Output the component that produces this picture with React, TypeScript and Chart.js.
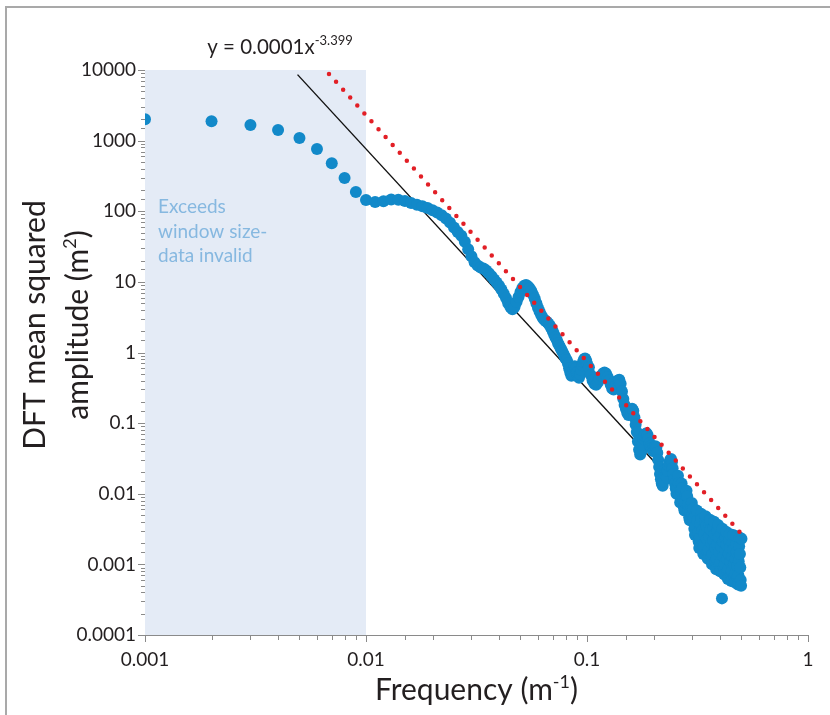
import React, { useEffect, useRef } from 'react';
import { Chart, registerables } from 'chart.js';

Chart.register(...registerables);

// ---------- data ----------
const freqA = [
  0.001, 0.002, 0.003, 0.004, 0.005, 0.006, 0.007, 0.008, 0.009, 0.010,
  0.011, 0.012, 0.013, 0.014, 0.015, 0.016, 0.017, 0.018, 0.019, 0.020,
  0.021, 0.022, 0.023, 0.024, 0.025, 0.026, 0.027, 0.028, 0.029, 0.030,
  0.031, 0.032, 0.033, 0.034, 0.035, 0.036, 0.037, 0.038, 0.039, 0.040,
  0.041, 0.042, 0.043, 0.044, 0.045, 0.046, 0.047, 0.048, 0.049, 0.050,
  0.051, 0.052, 0.053, 0.054, 0.055, 0.056, 0.057, 0.058, 0.059, 0.060,
  0.061, 0.062, 0.063, 0.064, 0.065, 0.066, 0.067, 0.068, 0.069, 0.070,
  0.071, 0.072, 0.073, 0.074, 0.075, 0.076, 0.077, 0.078, 0.079, 0.080,
  0.081, 0.082, 0.083, 0.084, 0.085, 0.086, 0.087, 0.088, 0.089, 0.090,
  0.091, 0.092, 0.093, 0.094, 0.095, 0.096, 0.097, 0.098, 0.099, 0.100,
];
const ampA = [
  2000, 1880, 1660, 1410, 1090, 760, 480, 295, 187, 144,
  135, 139, 147, 146, 140, 131, 124, 118, 111, 103,
  96, 88, 79, 69, 59, 51, 45, 37, 29, 23,
  19, 17, 16, 15.5, 14.5, 13.2, 12, 10.8, 9.8, 8.8,
  7.8, 6.8, 5.9, 5.0, 4.4, 4.1, 4.4, 5.2, 6.1, 7.2,
  8.2, 8.8, 9.0, 8.7, 8.1, 7.4, 6.6, 5.8, 5.0, 4.3,
  3.8, 3.4, 3.1, 2.9, 2.8, 2.7, 2.55, 2.4, 2.2, 2.0,
  1.8, 1.65, 1.5, 1.35, 1.25, 1.15, 1.06, 0.98, 0.9, 0.82,
  0.78, 0.70, 0.60, 0.52, 0.47, 0.50, 0.58, 0.64, 0.60, 0.52,
  0.46, 0.44, 0.49, 0.57, 0.66, 0.74, 0.80, 0.82, 0.78, 0.70,
];
const freqB = [
  0.102, 0.104, 0.106, 0.108, 0.110, 0.112, 0.114, 0.116, 0.118, 0.120,
  0.122, 0.124, 0.126, 0.128, 0.130, 0.132, 0.134, 0.136, 0.138, 0.140,
  0.142, 0.144, 0.146, 0.148, 0.150, 0.152, 0.154, 0.156, 0.158, 0.160,
  0.162, 0.164, 0.166, 0.168, 0.170, 0.172, 0.174, 0.176, 0.178, 0.180,
  0.182, 0.184, 0.186, 0.188, 0.190, 0.192, 0.194, 0.196, 0.198, 0.200,
  0.202, 0.204, 0.206, 0.208, 0.210, 0.212, 0.214, 0.216, 0.218, 0.220,
  0.222, 0.224, 0.226, 0.228, 0.230, 0.232, 0.234, 0.236, 0.238, 0.240,
  0.242, 0.244, 0.246, 0.248, 0.250, 0.252, 0.254, 0.256, 0.258, 0.260,
  0.262, 0.264, 0.266, 0.268, 0.270, 0.272, 0.274, 0.276, 0.278, 0.280,
  0.282, 0.284, 0.286, 0.288, 0.290, 0.292, 0.294, 0.296, 0.298, 0.300,
];
const ampB = [
  0.62, 0.48, 0.40, 0.36, 0.35, 0.38, 0.42, 0.47, 0.50, 0.52,
  0.50, 0.45, 0.40, 0.35, 0.31, 0.30, 0.32, 0.36, 0.40, 0.41,
  0.36, 0.28, 0.22, 0.18, 0.16, 0.14, 0.13, 0.14, 0.15, 0.16,
  0.15, 0.12, 0.095, 0.075, 0.055, 0.042, 0.036, 0.040, 0.050, 0.060,
  0.066, 0.070, 0.072, 0.068, 0.060, 0.052, 0.047, 0.044, 0.042, 0.040,
  0.044, 0.047, 0.045, 0.038, 0.030, 0.024, 0.019, 0.016, 0.014, 0.013,
  0.015, 0.019, 0.022, 0.020, 0.017, 0.021, 0.025, 0.028, 0.030, 0.031,
  0.028, 0.023, 0.019, 0.016, 0.014, 0.012, 0.010, 0.012, 0.018, 0.014,
  0.0095, 0.0075, 0.011, 0.014, 0.012, 0.0085, 0.0065, 0.0058, 0.0075, 0.0095,
  0.011, 0.0092, 0.0070, 0.0058, 0.0046, 0.0042, 0.0055, 0.0068, 0.0074, 0.0050,
];
const freqC = [
  0.302, 0.304, 0.306, 0.308, 0.310, 0.312, 0.314, 0.316, 0.318, 0.320,
  0.322, 0.324, 0.326, 0.328, 0.330, 0.332, 0.334, 0.336, 0.338, 0.340,
  0.342, 0.344, 0.346, 0.348, 0.350, 0.352, 0.354, 0.356, 0.358, 0.360,
  0.362, 0.364, 0.366, 0.368, 0.370, 0.372, 0.374, 0.376, 0.378, 0.380,
  0.382, 0.384, 0.386, 0.388, 0.390, 0.392, 0.394, 0.396, 0.398, 0.400,
  0.402, 0.404, 0.406, 0.408, 0.410, 0.412, 0.414, 0.416, 0.418, 0.420,
  0.422, 0.424, 0.426, 0.428, 0.430, 0.432, 0.434, 0.436, 0.438, 0.440,
  0.442, 0.444, 0.446, 0.448, 0.450, 0.452, 0.454, 0.456, 0.458, 0.460,
  0.462, 0.464, 0.466, 0.468, 0.470, 0.472, 0.474, 0.476, 0.478, 0.480,
  0.482, 0.484, 0.486, 0.488, 0.490, 0.492, 0.494, 0.496, 0.498, 0.500,
];
const ampC = [
  0.0062, 0.0045, 0.0032, 0.0026, 0.0035, 0.0050, 0.0058, 0.0041, 0.0028, 0.0021,
  0.0017, 0.0024, 0.0038, 0.0052, 0.0044, 0.0030, 0.0019, 0.0014, 0.0018, 0.0027,
  0.0040, 0.0048, 0.0035, 0.0023, 0.0015, 0.0012, 0.0016, 0.0025, 0.0036, 0.0043,
  0.0031, 0.0020, 0.0013, 0.0010, 0.0014, 0.0022, 0.0033, 0.0040, 0.0027, 0.0017,
  0.0011, 0.00085, 0.0012, 0.0019, 0.0029, 0.0036, 0.0024, 0.0015, 0.0010, 0.00080,
  0.0011, 0.0018, 0.0027, 0.00033, 0.0032, 0.0021, 0.0013, 0.00090, 0.00072, 0.0010,
  0.0016, 0.0024, 0.0029, 0.0019, 0.0012, 0.00078, 0.00062, 0.00085, 0.0014, 0.0022,
  0.0027, 0.0017, 0.0011, 0.00072, 0.00058, 0.00080, 0.0013, 0.0020, 0.0026, 0.0016,
  0.0010, 0.00068, 0.00056, 0.00075, 0.0012, 0.0019, 0.0025, 0.0015, 0.00095, 0.00064,
  0.00052, 0.00070, 0.0011, 0.0018, 0.0024, 0.0014, 0.00090, 0.00060, 0.00050, 0.0023,
];

// Power-law fit line (black) endpoints
const fitX = [0.0049, 0.2];
const fitY = [8600, 0.029];
// Red dotted reference line endpoints
const refX = [0.0068, 0.5];
const refY = [8800, 0.0027];

// Invalid region (shaded)
const invalidRange = [0.001, 0.01];
const invalidText = ['Exceeds', 'window size-', 'data invalid'];

// Axis limits & labels
const xMin = 0.001;
const xMax = 1;
const yMin = 0.0001;
const yMax = 10000;
const xTickLabels: Record<string, string> = { '-3': '0.001', '-2': '0.01', '-1': '0.1', '0': '1' };
const yTickLabels: Record<string, string> = {
  '-4': '0.0001', '-3': '0.001', '-2': '0.01', '-1': '0.1', '0': '1',
  '1': '10', '2': '100', '3': '1000', '4': '10000',
};
const equationMain = 'y = 0.0001x';
const equationSup = '-3.399';
const xTitleMain = 'Frequency (m';
const xTitleSup = '-1';
const xTitleEnd = ')';
const yTitleLine1 = 'DFT mean squared';
const yTitleMain = 'amplitude (m';
const yTitleSup = '2';
const yTitleEnd = ')';

// ---------- styles ----------
const FONT = 'Lato, "Open Sans", sans-serif';
const TEXT = '#231f20';
const AXIS = '#8a8a8a';
const BLUE = '#1289c9';
const RED = '#e21f26';
const SHADE = '#e4ebf6';
const SHADE_TEXT = '#86b8e0';

type Part = { t: string; sup?: boolean };

function drawRich(
  ctx: CanvasRenderingContext2D,
  parts: Part[],
  cx: number,
  baseY: number,
  size: number,
  supSize: number,
  supRise: number,
) {
  const widths: number[] = [];
  let total = 0;
  parts.forEach((p) => {
    ctx.font = `${p.sup ? supSize : size}px ${FONT}`;
    const w = ctx.measureText(p.t).width;
    widths.push(w);
    total += w;
  });
  let x = cx - total / 2;
  parts.forEach((p, i) => {
    ctx.font = `${p.sup ? supSize : size}px ${FONT}`;
    ctx.fillText(p.t, x, p.sup ? baseY - supRise : baseY);
    x += widths[i];
  });
}

function isDecade(v: number) {
  const e = Math.log10(v);
  return Math.abs(e - Math.round(e)) < 1e-6;
}

const decorPlugin = {
  id: 'decor',
  beforeDatasetsDraw(chart: any) {
    const { ctx, chartArea, scales } = chart;
    const x0 = scales.x.getPixelForValue(invalidRange[0]);
    const x1 = scales.x.getPixelForValue(invalidRange[1]);
    ctx.save();
    ctx.fillStyle = SHADE;
    ctx.fillRect(x0, chartArea.top, x1 - x0, chartArea.bottom - chartArea.top);
    ctx.fillStyle = SHADE_TEXT;
    ctx.font = `19px ${FONT}`;
    ctx.textAlign = 'left';
    ctx.textBaseline = 'alphabetic';
    invalidText.forEach((line, i) => {
      ctx.fillText(line, x0 + 13, chartArea.top + 143 + i * 24.5);
    });
    ctx.restore();
  },
  afterDraw(chart: any) {
    const { ctx, chartArea, scales } = chart;
    ctx.save();
    // tick marks
    ctx.strokeStyle = AXIS;
    ctx.lineWidth = 1;
    ctx.beginPath();
    scales.x.ticks.forEach((t: any) => {
      const px = Math.round(scales.x.getPixelForValue(t.value)) + 0.5;
      const len = isDecade(t.value) ? 7 : 5;
      ctx.moveTo(px, chartArea.bottom);
      ctx.lineTo(px, chartArea.bottom + len);
    });
    scales.y.ticks.forEach((t: any) => {
      const py = Math.round(scales.y.getPixelForValue(t.value)) + 0.5;
      const len = isDecade(t.value) ? 7 : 4;
      ctx.moveTo(chartArea.left - len, py);
      ctx.lineTo(chartArea.left, py);
    });
    ctx.stroke();

    ctx.fillStyle = TEXT;
    ctx.textAlign = 'left';
    ctx.textBaseline = 'alphabetic';
    // equation
    drawRich(ctx, [{ t: equationMain }, { t: equationSup, sup: true }], 280, 54, 20.5, 13, 9.5);
    // x title
    drawRich(
      ctx,
      [{ t: xTitleMain }, { t: xTitleSup, sup: true }, { t: xTitleEnd }],
      (chartArea.left + chartArea.right) / 2,
      700,
      30,
      18,
      12,
    );
    // y title (rotated)
    ctx.translate(0, 325);
    ctx.rotate(-Math.PI / 2);
    drawRich(ctx, [{ t: yTitleLine1 }], 0, 45, 30, 18, 12);
    drawRich(ctx, [{ t: yTitleMain }, { t: yTitleSup, sup: true }, { t: yTitleEnd }], 0, 88, 30, 18, 12);
    ctx.restore();
  },
};

export default function App() {
  const ref = useRef<HTMLCanvasElement | null>(null);

  useEffect(() => {
    if (!ref.current) return;
    const toPts = (xs: number[], ys: number[]) => xs.map((x, i) => ({ x, y: ys[i] }));
    const spectrum = [...toPts(freqA, ampA), ...toPts(freqB, ampB), ...toPts(freqC, ampC)];

    const chart = new Chart(ref.current, {
      type: 'scatter',
      data: {
        datasets: [
          {
            type: 'line',
            data: toPts(refX, refY),
            borderColor: RED,
            borderWidth: 4.5,
            borderDash: [0, 10.6],
            borderCapStyle: 'round',
            pointRadius: 0,
            fill: false,
            order: 0,
          } as any,
          {
            type: 'scatter',
            data: spectrum,
            backgroundColor: BLUE,
            borderWidth: 0,
            pointRadius: 6,
            pointHoverRadius: 6,
            order: 1,
          },
          {
            type: 'line',
            data: toPts(fitX, fitY),
            borderColor: '#111111',
            borderWidth: 1.4,
            pointRadius: 0,
            fill: false,
            order: 2,
          } as any,
        ],
      },
      options: {
        responsive: false,
        animation: false,
        devicePixelRatio: 1,
        layout: { padding: { top: 70, right: 22, left: 0, bottom: 0 } },
        plugins: { legend: { display: false }, tooltip: { enabled: false } },
        events: [],
        scales: {
          x: {
            type: 'logarithmic',
            min: xMin,
            max: xMax,
            position: 'bottom',
            grid: { display: false, drawTicks: false },
            border: { display: true, color: AXIS, width: 1 },
            ticks: {
              autoSkip: false,
              maxRotation: 0,
              minRotation: 0,
              padding: 13,
              color: TEXT,
              font: { family: FONT, size: 19 },
              callback: (v: any) => {
                const n = Number(v);
                if (!isDecade(n)) return '';
                return xTickLabels[String(Math.round(Math.log10(n)))] ?? '';
              },
            },
            afterFit: (s: any) => {
              s.height = 80;
            },
          },
          y: {
            type: 'logarithmic',
            min: yMin,
            max: yMax,
            position: 'left',
            grid: { display: false, drawTicks: false },
            border: { display: true, color: AXIS, width: 1 },
            ticks: {
              autoSkip: false,
              padding: 9,
              color: TEXT,
              font: { family: FONT, size: 19 },
              callback: (v: any) => {
                const n = Number(v);
                if (!isDecade(n)) return '';
                return yTickLabels[String(Math.round(Math.log10(n)))] ?? '';
              },
            },
            afterFit: (s: any) => {
              s.width = 145;
            },
          },
        },
      },
      plugins: [decorPlugin],
    });
    return () => chart.destroy();
  }, []);

  return (
    <div style={{ position: 'absolute', left: 0, top: 0, width: 830, height: 715, background: '#ffffff' }}>
      <canvas ref={ref} width={830} height={715} style={{ display: 'block', width: 830, height: 715 }} />
      <div
        style={{
          position: 'absolute',
          left: 5,
          top: 6,
          right: 0,
          bottom: 0,
          borderTop: '2px solid #a9a9a9',
          borderLeft: '2px solid #a9a9a9',
          pointerEvents: 'none',
        }}
      />
    </div>
  );
}
